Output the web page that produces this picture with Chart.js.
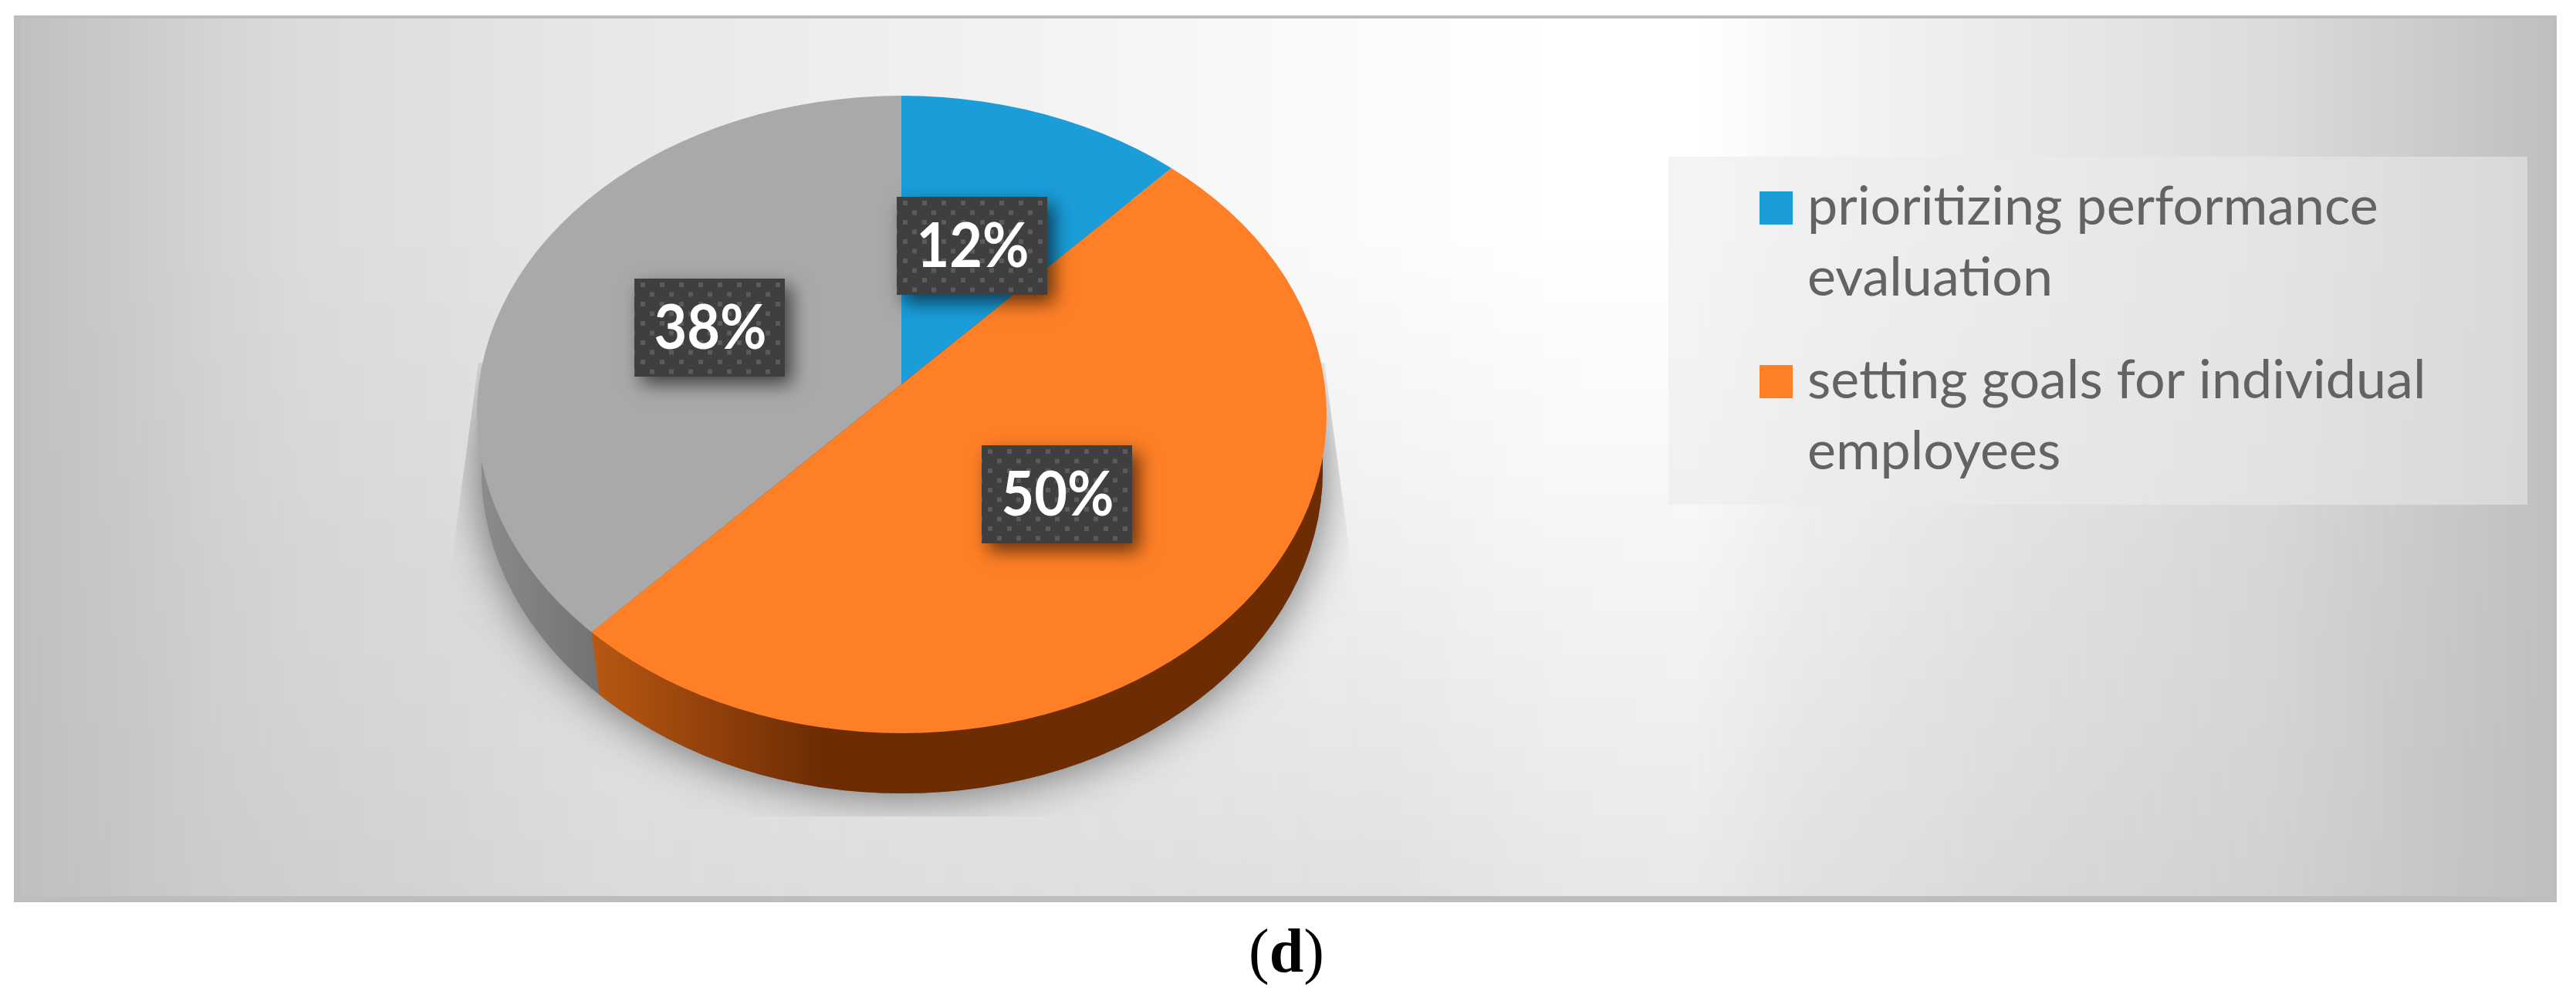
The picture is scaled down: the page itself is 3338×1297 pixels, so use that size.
<!DOCTYPE html>
<html><head><meta charset="utf-8">
<style>html,body{margin:0;padding:0;background:#fff}canvas{display:block}</style>
<script src="https://cdn.jsdelivr.net/npm/chart.js@4/dist/chart.umd.min.js"></script>
</head><body>
<canvas id="c" width="3338" height="1297"></canvas>
<script>
const categories = ['prioritizing performance evaluation', 'setting goals for individual employees', ''];
const shares = [12, 50, 38];
const sliceColors = ['#1a9dd9', '#fe7f26', '#a9a9a9'];
const legendLines = [['prioritizing performance', 'evaluation'], ['setting goals for individual', 'employees']];
const caption = '(d)';

const TOP = {cx: 1168.5, cy: 537, rx: 550.5, ry: 413};      // perspective outline of the top face
const APEX = {x: 1168, y: 498, squash: 0.751};
const BASE = {cx: 1169, cy: 610, rx: 545, ry: 418};
const BOXES = [{x: 1162, y: 255}, {x: 1272, y: 577}, {x: 822, y: 361}];
const BOX = {w: 195, h: 127};

function ellipse(ctx, e) { ctx.beginPath(); ctx.ellipse(e.cx, e.cy, e.rx, e.ry, 0, 0, Math.PI * 2); }

function rimPoint(angle) {
  const dx = Math.cos(angle), dy = Math.sin(angle) * APEX.squash;
  const px = (APEX.x - TOP.cx) / TOP.rx, py = (APEX.y - TOP.cy) / TOP.ry;
  const qx = dx / TOP.rx, qy = dy / TOP.ry;
  const a = qx * qx + qy * qy, b = 2 * (px * qx + py * qy), c = px * px + py * py - 1;
  const t = (-b + Math.sqrt(b * b - 4 * a * c)) / (2 * a);
  return {x: APEX.x + dx * t, y: APEX.y + dy * t};
}

function dotPattern(ctx) {
  const p = document.createElement('canvas'); p.width = 25; p.height = 25;
  const g = p.getContext('2d');
  g.fillStyle = '#3f3f3f'; g.fillRect(0, 0, 25, 25);
  g.fillStyle = '#5b5b5b';
  g.fillRect(8, 5, 6, 6); g.fillRect(20, 17.5, 5, 6); g.fillRect(0, 17.5, 1, 6);
  return ctx.createPattern(p, 'repeat');
}

function stops(grad, from, span, list) { list.forEach(([x, c]) => grad.addColorStop((x - from) / span, c)); }

const scene = {
  id: 'scene',
  beforeDraw(chart) {
    const ctx = chart.ctx;
    ctx.save();
    ctx.fillStyle = '#fff'; ctx.fillRect(0, 0, 3338, 1297);
    ctx.fillStyle = '#bdbdbd'; ctx.fillRect(18, 20, 3295, 1149);
    ctx.beginPath(); ctx.rect(26, 24, 3280, 1137); ctx.clip();
    const h = ctx.createLinearGradient(18, 0, 3313, 0);
    stops(h, 18, 3295, [[18,'#bfbfbf'],[300,'#d6d6d6'],[400,'#dcdcdc'],[550,'#e0e0e0'],[800,'#e8e8e8'],[1200,'#f0f0f0'],
      [1700,'#fafafa'],[2000,'#ffffff'],[2200,'#ffffff'],[2336,'#f6f6f6'],[2654,'#e8e8e8'],[2938,'#dcdcdc'],[3100,'#cfcfcf'],[3313,'#bfbfbf']]);
    ctx.fillStyle = h; ctx.fillRect(0, 0, 3338, 1297);
    // darkening toward the bottom, strongest around the middle of the panel
    const o = document.createElement('canvas'); o.width = 3338; o.height = 1297;
    const g = o.getContext('2d');
    const v = g.createLinearGradient(0, 0, 0, 1161);
    stops(v, 0, 1161, [[300,'rgba(0,0,0,0)'],[600,'rgba(0,0,0,0.03)'],[1161,'rgba(0,0,0,0.105)']]);
    g.fillStyle = v; g.fillRect(0, 0, 3338, 1297);
    g.globalCompositeOperation = 'destination-in';
    const m = g.createLinearGradient(18, 0, 3313, 0);
    stops(m, 18, 3295, [[26,'rgba(0,0,0,0)'],[400,'rgba(0,0,0,0.5)'],[800,'rgba(0,0,0,0.5)'],[1800,'rgba(0,0,0,1)'],
      [2650,'rgba(0,0,0,0.65)'],[2938,'rgba(0,0,0,0.43)'],[3306,'rgba(0,0,0,0)']]);
    g.fillStyle = m; g.fillRect(0, 0, 3338, 1297);
    ctx.drawImage(o, 0, 0);
    ctx.restore();
  },
  beforeDatasetsDraw(chart) {
    const ctx = chart.ctx, meta = chart.getDatasetMeta(0), arc = meta.data[1];
    const corner = rimPoint(arc.endAngle);
    // soft shadow, cut by its bounding trapezoid
    ctx.save();
    ctx.beginPath();
    ctx.moveTo(620, 470); ctx.lineTo(1716, 470); ctx.lineTo(1753, 744); ctx.lineTo(1753, 1058);
    ctx.lineTo(582, 1058); ctx.lineTo(582, 750); ctx.closePath(); ctx.clip();
    ctx.shadowColor = 'rgba(0,0,0,0.55)'; ctx.shadowBlur = 60; ctx.shadowOffsetY = 0;
    ctx.fillStyle = '#888'; ellipse(ctx, BASE); ctx.fill();
    ctx.restore();
    // side wall
    const gray = ctx.createLinearGradient(620, 0, corner.x + 10, 0);
    gray.addColorStop(0, '#8c8c8c'); gray.addColorStop(1, '#727272');
    const orange = ctx.createLinearGradient(corner.x, 0, 1062, 0);
    orange.addColorStop(0, '#b85813'); orange.addColorStop(1, '#6e2c03');
    const wall = () => { ellipse(ctx, BASE); ctx.fill(); ctx.fillRect(BASE.cx - BASE.rx, TOP.cy, BASE.rx * 2, BASE.cy - TOP.cy); };
    ctx.save(); ctx.fillStyle = gray; wall(); ctx.restore();
    ctx.save();
    ctx.beginPath();
    ctx.moveTo(corner.x, corner.y); ctx.lineTo(corner.x + 10, corner.y + 79); ctx.lineTo(corner.x + 10, 1100);
    ctx.lineTo(1800, 1100); ctx.lineTo(1800, 400); ctx.lineTo(corner.x, 400); ctx.closePath(); ctx.clip();
    ctx.fillStyle = orange; wall();
    ctx.restore();
    // top face: the library's arcs, squashed about the apex and cut by the rim
    ctx.save();
    ellipse(ctx, TOP); ctx.clip();
    ctx.translate(APEX.x, APEX.y); ctx.scale(1, APEX.squash); ctx.translate(-arc.x, -arc.y);
  },
  afterDatasetsDraw(chart) {
    const ctx = chart.ctx;
    ctx.restore();
    const pat = dotPattern(ctx);
    chart.data.datasets[0].data.forEach((v, i) => {
      const b = BOXES[i];
      ctx.save();
      ctx.shadowColor = 'rgba(0,0,0,0.6)'; ctx.shadowBlur = 22; ctx.shadowOffsetX = 9; ctx.shadowOffsetY = 10;
      ctx.fillStyle = '#3f3f3f'; ctx.fillRect(b.x, b.y, BOX.w, BOX.h);
      ctx.restore();
      ctx.save();
      ctx.translate(b.x, b.y);
      ctx.fillStyle = pat; ctx.fillRect(0, 0, BOX.w, BOX.h);
      ctx.fillStyle = '#fff'; ctx.font = 'bold 80px Lato'; ctx.textAlign = 'center'; ctx.textBaseline = 'alphabetic';
      ctx.fillText(v + '%', BOX.w / 2 + 1, 91, 146);
      ctx.restore();
    });
    // legend
    ctx.save();
    ctx.fillStyle = 'rgba(235,235,235,0.55)'; ctx.fillRect(2162, 203, 1113, 451);
    ctx.font = '70px Lato'; ctx.textBaseline = 'alphabetic'; ctx.textAlign = 'left';
    const rows = [291, 516];
    legendLines.forEach((lines, i) => {
      ctx.fillStyle = sliceColors[i]; ctx.fillRect(2280, rows[i] - 43, 43, 43);
      ctx.fillStyle = '#636363';
      lines.forEach((t, j) => ctx.fillText(t, 2342, rows[i] + j * 92));
    });
    ctx.restore();
    // caption
    ctx.save();
    ctx.fillStyle = '#000'; ctx.textBaseline = 'alphabetic'; ctx.textAlign = 'left';
    let x = 1618;
    [...caption].forEach(ch => {
      ctx.font = (ch === 'd' ? 'bold ' : '') + '80px "Liberation Serif"';
      ctx.fillText(ch, x, 1259); x += ctx.measureText(ch).width;
    });
    ctx.restore();
  }
};

new Chart(document.getElementById('c'), {
  type: 'pie',
  data: {labels: categories, datasets: [{data: shares, backgroundColor: sliceColors, borderWidth: 0, radius: 1400, clip: false}]},
  options: {
    responsive: false, animation: false,
    layout: {padding: 0},
    plugins: {legend: {display: false}, tooltip: {enabled: false}}
  },
  plugins: [scene]
});
</script>
</body></html>
